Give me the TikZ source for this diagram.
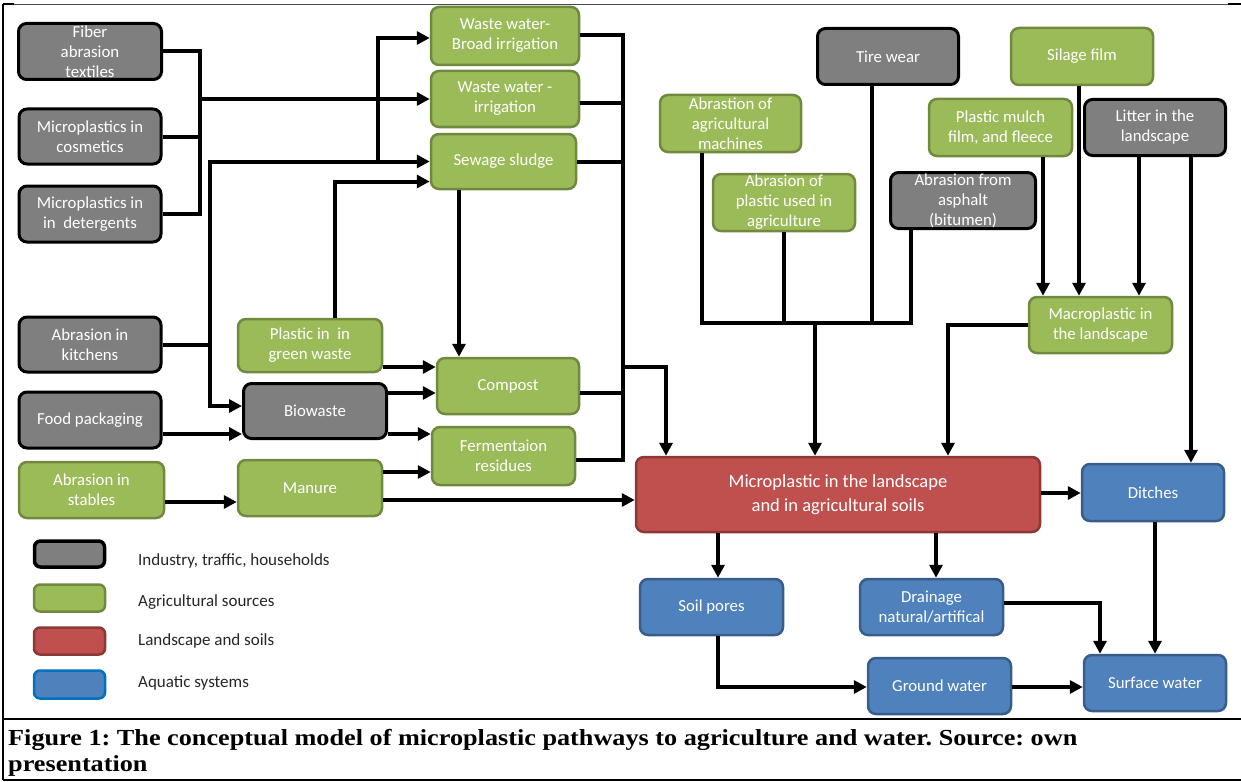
\documentclass[tikz,border=0pt]{standalone}
\usepackage{fontspec}
\setmainfont{Carlito}
\newfontfamily\capfont[FakeStretch=1.14]{Liberation Serif}
\usetikzlibrary{arrows.meta,calc}
\definecolor{greyF}{HTML}{7F7F7F}
\definecolor{greenF}{HTML}{9BBB59}
\definecolor{greenB}{HTML}{71893F}
\definecolor{redF}{HTML}{C0504D}
\definecolor{redB}{HTML}{8C3836}
\definecolor{blueF}{HTML}{4F81BD}
\definecolor{blueB}{HTML}{385D8A}
\definecolor{legblueB}{HTML}{0070C0}
\definecolor{legtxt}{HTML}{262626}
\begin{document}
\frenchspacing
\begin{tikzpicture}[x=1pt,y=-1pt,
  basebox/.style={rounded corners=8pt, align=center, text=white, inner sep=0pt, font=\fontsize{16.8}{20}\selectfont},
  gbox/.style={basebox, fill=greyF, draw=black, line width=3pt},
  abox/.style={basebox, fill=greenF, draw=greenB, line width=2.5pt},
  rbox/.style={basebox, fill=redF, draw=redB, line width=2.5pt, font=\fontsize{18.5}{24}\selectfont},
  wbox/.style={basebox, fill=blueF, draw=blueB, line width=2.5pt},
  wh/.style 2 args={minimum width=#1pt, minimum height=#2pt},
  ln/.style={line width=4pt, draw=black},
  arr/.style={ln, -{Triangle[length=13pt,width=13pt]}},
  legtext/.style={anchor=base west, text=legtxt, inner sep=0pt, font=\fontsize{17}{20}\selectfont},
]
\useasboundingbox (0,0) rectangle (1241,781);

% frame
\draw[line width=2pt] (3,4) -- (3,780);
\draw[line width=1pt, draw=black!70] (3,4.5) -- (1241,4.5);
\draw[line width=2.5pt] (3,4) -- (14,4);
\draw[line width=2.5pt] (1228,4) -- (1241,4);
\draw[line width=2.5pt] (3,719) -- (1241,719);
\draw[line width=2pt] (3,779.5) -- (1241,779.5);

% nodes
\node[gbox, wh={143}{56}] (fiber) at (90,51.5) {Fiber\\abrasion\\textiles};
\node[gbox, wh={142}{55}] (cosm) at (90,136.5) {Microplastics in\\cosmetics};
\node[gbox, wh={142}{56}] (deter) at (90,214) {Microplastics in\\in\ \ detergents};
\node[gbox, wh={142}{55}] (kitch) at (90,344.5) {Abrasion in\\kitchens};
\node[gbox, wh={142}{56}] (food) at (90,420) {Food packaging};
\node[abox, wh={145}{56}] (stab) at (91.5,490) {Abrasion in\\stables};
\node[abox, wh={148}{58}] (bwb) at (505,36) {Waste water-\\Broad irrigation};
\node[abox, wh={148}{56}] (wwi) at (505,99) {Waste water -\\irrigation};
\node[abox, wh={145}{55}] (sew) at (503.5,161.5) {Sewage sludge};
\node[abox, wh={144}{53}] (gw) at (310,345.5) {Plastic in\ \ in\\green waste};
\node[gbox, wh={143}{55}] (bio) at (315,411) {Biowaste};
\node[abox, wh={144}{56}] (man) at (310,488) {Manure};
\node[abox, wh={142}{56}] (comp) at (508,386) {Compost};
\node[abox, wh={143}{58}] (ferm) at (503.5,456) {Fermentaion\\residues};
\node[abox, wh={141}{57}] (mach) at (730.5,123.5) {Abrastion of\\agricultural\\machines};
\node[abox, wh={142}{57}] (plag) at (784,202.5) {Abrasion of\\plastic used in\\agriculture};
\node[gbox, wh={141}{56}] (tire) at (888,56.5) {Tire wear};
\node[gbox, wh={145}{56}] (asph) at (963,200.5) {Abrasion from\\asphalt\\(bitumen)};
\node[abox, wh={142}{57}] (sil) at (1082,56.5) {Silage film};
\node[abox, wh={143}{57}] (mulch) at (1000.5,127.5) {Plastic mulch\\film, and fleece};
\node[gbox, wh={141}{56}] (litter) at (1155,127.5) {Litter in the\\landscape};
\node[abox, wh={143}{56}] (macro) at (1100.5,325) {Macroplastic in\\the landscape};
\node[rbox, wh={404}{75}] (soilmp) at (838,494.5) {Microplastic in the landscape\\and in agricultural soils};
\node[wbox, wh={142}{57}] (ditch) at (1153,492.5) {Ditches};
\node[wbox, wh={143}{56}] (pores) at (711.5,607) {Soil pores};
\node[wbox, wh={143}{56}] (drain) at (931.5,607) {Drainage\\natural/artifical};
\node[wbox, wh={143}{56}] (ground) at (939.5,686) {Ground water};
\node[wbox, wh={142}{56}] (surf) at (1155,683) {Surface water};

% helper coordinates
\coordinate (xL1) at (200,0);
\coordinate (xL2) at (210,0);
\coordinate (x378) at (378,0);
\coordinate (x335) at (335,0);
\coordinate (x459) at (459,0);
\coordinate (xR1) at (623,0);
\coordinate (x666) at (666,0);
\coordinate (x702) at (702,0);
\coordinate (x784) at (784,0);
\coordinate (x872) at (872,0);
\coordinate (x911) at (911,0);
\coordinate (x815) at (815,0);
\coordinate (x948) at (948,0);
\coordinate (x1043) at (1043,0);
\coordinate (x1079) at (1079,0);
\coordinate (x1139) at (1139,0);
\coordinate (x1191) at (1191,0);
\coordinate (x718) at (718,0);
\coordinate (x936) at (936,0);
\coordinate (x1100) at (1100,0);
\coordinate (x1155) at (1155,0);
\coordinate (yB) at (0,323);
\coordinate (y35) at (0,35);
\coordinate (y103) at (0,103);
\coordinate (y367) at (0,367);
\coordinate (y393) at (0,393);
\coordinate (y434) at (0,434);
\coordinate (y460) at (0,460);
\coordinate (y472) at (0,472);
\coordinate (y493) at (0,493);
\coordinate (y500) at (0,500);
\coordinate (y502) at (0,502);
\coordinate (y603) at (0,603);
\coordinate (y687) at (0,687);
\coordinate (bioin) at ($(bio.west)+(0,-5)$);
\coordinate (bwbin) at ($(bwb.west)+(0,2)$);
\coordinate (sewin) at ($(sew.west)+(0,20)$);

% left households group
\draw[ln] (fiber.east) -- (fiber.east -| xL1) -- (deter.east -| xL1) -- (deter.east);
\draw[ln] (cosm.east) -- (cosm.east -| xL1);
\draw[arr] (wwi.west -| xL1) -- (wwi.west);
% kitchens
\draw[arr] (kitch.east) -- (kitch.east -| xL2) |- (sew.west);
\draw[arr] (kitch.east -| xL2) |- (bioin);
\draw[arr] (sew.west -| x378) |- (bwbin);
% green waste
\draw[arr] (gw.north -| x335) |- (sewin);
\draw[arr] (gw.east |- y367) -- (comp.west |- y367);
\draw[arr] (bio.east |- y393) -- (comp.west |- y393);
\draw[arr] (bio.east |- y434) -- (ferm.west |- y434);
\draw[arr] (food.east |- y434) -- (bio.west |- y434);
\draw[arr] (stab.east |- y502) -- (man.west |- y502);
\draw[arr] (man.east |- y472) -- (ferm.west |- y472);
\draw[arr] (man.east |- y500) -- (soilmp.west |- y500);
\draw[arr] (sew.south -| x459) -- (comp.north -| x459);
% right bus of treatment
\draw[ln] (bwb.east |- y35) -- (xR1 |- y35) -- (xR1 |- y460) -- (ferm.east |- y460);
\draw[ln] (wwi.east |- y103) -- (xR1 |- y103);
\draw[ln] (sew.east) -- (sew.east -| xR1);
\draw[ln] (comp.east |- y393) -- (xR1 |- y393);
\draw[arr] (xR1 |- y367) -| (soilmp.north -| x666);
% top right group
\draw[ln] (mach.south -| x702) -- (x702 |- yB) -- (x911 |- yB) -- (asph.south -| x911);
\draw[ln] (plag.south -| x784) -- (x784 |- yB);
\draw[ln] (tire.south -| x872) -- (x872 |- yB);
\draw[arr] (x815 |- yB) -- (soilmp.north -| x815);
% macroplastic
\draw[arr] (mulch.south -| x1043) -- (macro.north -| x1043);
\draw[arr] (sil.south -| x1079) -- (macro.north -| x1079);
\draw[arr] (litter.south -| x1139) -- (macro.north -| x1139);
\draw[arr] (litter.south -| x1191) -- (ditch.north -| x1191);
\draw[arr] (macro.west) -| (soilmp.north -| x948);
% outputs
\draw[arr] (soilmp.east |- y493) -- (ditch.west |- y493);
\draw[arr] (soilmp.south -| x718) -- (pores.north -| x718);
\draw[arr] (soilmp.south -| x936) -- (drain.north -| x936);
\draw[arr] (drain.east |- y603) -| (surf.north -| x1100);
\draw[arr] (ditch.south -| x1155) -- (surf.north -| x1155);
\draw[arr] (pores.south -| x718) |- (ground.west |- y687);
\draw[arr] (ground.east |- y687) -- (surf.west |- y687);

% legend
\node[gbox, wh={70}{26}, line width=3.5pt, rounded corners=6pt] (lg1) at (69.5,554) {};
\node[abox, wh={71}{27}, rounded corners=6pt] (lg2) at (69.5,598) {};
\node[rbox, wh={71}{27}, rounded corners=6pt] (lg3) at (69.5,641) {};
\node[wbox, draw=legblueB, wh={71}{28}, rounded corners=6pt] (lg4) at (69.5,684.5) {};
\node[legtext] (lt1) at (138,565) {Industry, traffic, households};
\node[legtext] (lt2) at (138,606) {Agricultural sources};
\node[legtext] (lt3) at (138,645) {Landscape and soils};
\node[legtext] (lt4) at (138,687) {Aquatic systems};

% caption
\node[anchor=north west, align=left, inner sep=0pt, font=\capfont\bfseries\fontsize{23}{26}\selectfont] (cap) at (8,729)
  {Figure 1: The conceptual model of microplastic pathways to agriculture and water. Source: own\\presentation};
\end{tikzpicture}
\end{document}
